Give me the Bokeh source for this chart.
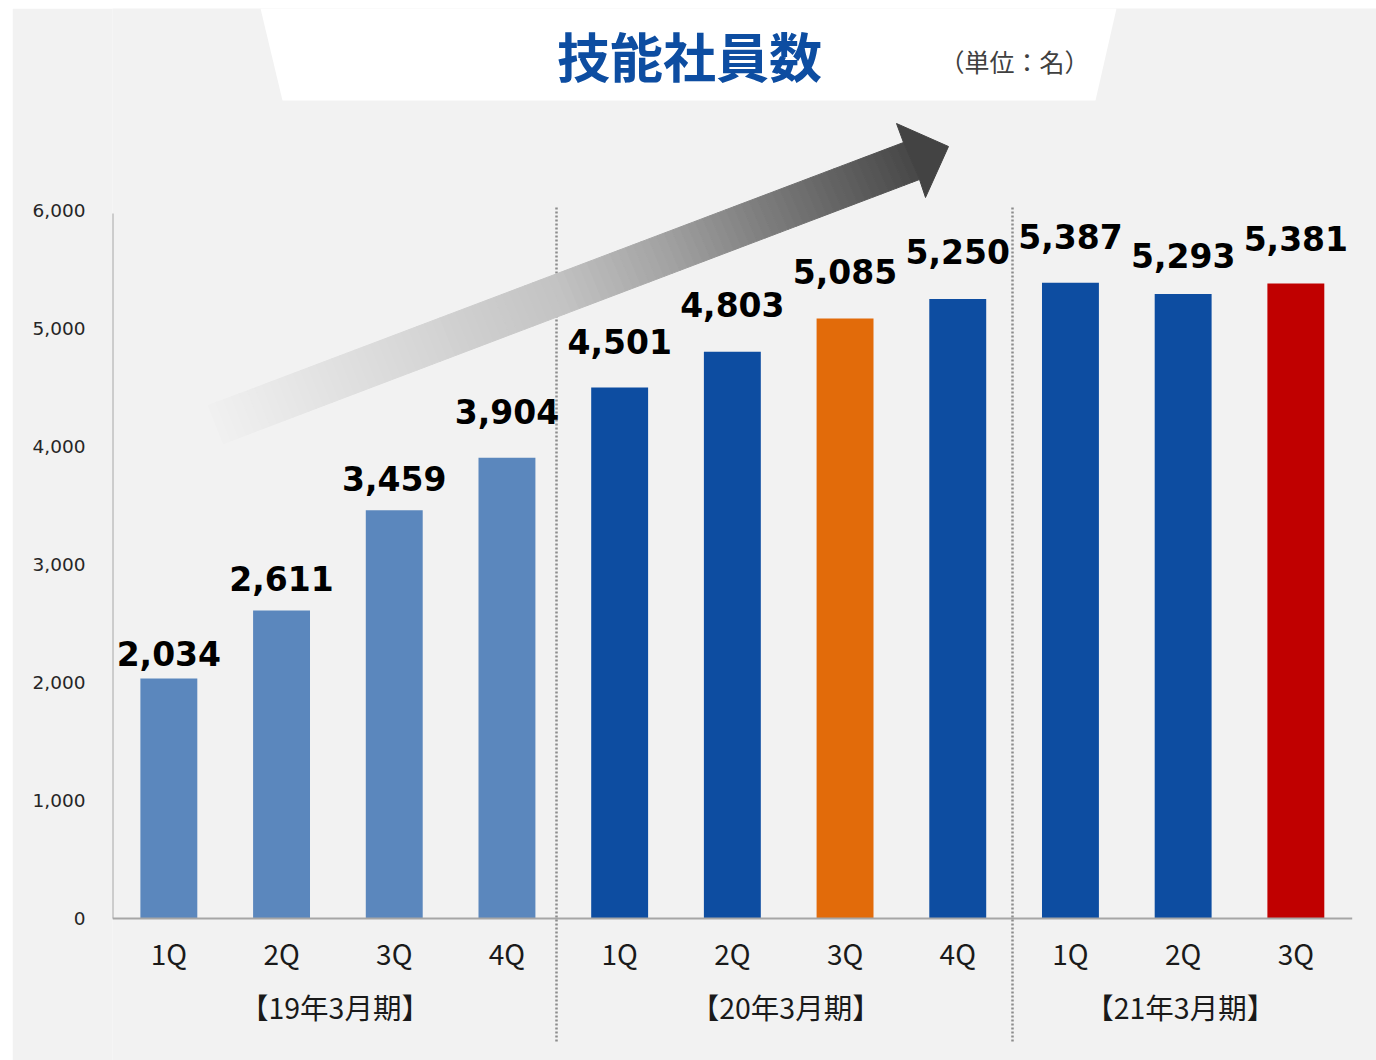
import numpy as np
from bokeh.plotting import figure
from bokeh.models import Range1d, FixedTicker, ColumnDataSource, NumeralTickFormatter
from bokeh.core.properties import value
from bokeh.embed import file_html
from bokeh.resources import INLINE

# ---------------- data ----------------
quarters = ["1Q", "2Q", "3Q", "4Q", "1Q", "2Q", "3Q", "4Q", "1Q", "2Q", "3Q"]
fiscal_groups = ["【19年3月期】", "【20年3月期】", "【21年3月期】"]
group_sizes = [4, 4, 3]
employees = [2034, 2611, 3459, 3904, 4501, 4803, 5085, 5250, 5387, 5293, 5381]
y_ticks = [0, 1000, 2000, 3000, 4000, 5000, 6000]
title_text = "技能社員数"
unit_text = "（単位：名）"

# ---------------- styles ----------------
bar_colors = ["#5b87bd"] * 4 + ["#0d4da1"] * 2 + ["#e26b0a"] + ["#0d4da1"] * 3 + ["#c00000"]
label_lift = [13, 20, 20, 34, 34, 35, 35, 36, 34, 26, 33]   # px gap between bar top and label baseline
BASELINE_FIX = 12  # svg alphabetic baseline correction
BG = "#f2f2f2"
BLUE = "#0d4da1"

# pixel <-> data helpers for decorations
FRAME_L, PX_PER_CAT, PX_PER_UNIT, ZERO_PY = 112, 112.7, 0.118, 918
def dx(px):
    return (px - FRAME_L) / PX_PER_CAT
def dy(py):
    return (ZERO_PY - py) / PX_PER_UNIT

p = figure(width=1364, height=1052, margin=(8, 0, 0, 12),
           x_range=Range1d(dx(112), dx(1376)), y_range=Range1d(dy(1060), dy(8)),
           x_axis_location=None, y_axis_location="left",
           output_backend="svg", toolbar_location=None,
           min_border_left=100, min_border_right=0, min_border_top=0, min_border_bottom=0)
p.background_fill_color = BG
p.border_fill_color = BG
p.outline_line_color = None
p.xgrid.visible = False
p.ygrid.visible = False

ax = p.yaxis[0]
ax.ticker = FixedTicker(ticks=y_ticks)
ax.formatter = NumeralTickFormatter(format="0,0")
ax.axis_line_color = None
ax.major_tick_line_color = None
ax.minor_tick_line_color = None
ax.major_label_standoff = 21
ax.major_label_text_font = "DejaVu Sans"
ax.major_label_text_font_size = "18.5px"
ax.major_label_text_color = "#262626"

n = len(employees)
centers = [i + 0.5 for i in range(n)]

# title banner (white trapezoid)
p.patch([dx(260), dx(1116), dx(1095), dx(282)], [dy(8), dy(8), dy(100), dy(100)],
        fill_color="white", line_color=None)
p.text([dx(689)], [dy(54)], text=[title_text], text_font=value("Noto Sans CJK JP"),
       text_font_style="bold", text_font_size="53px", text_color=BLUE,
       text_align="center", text_baseline="middle")
p.text([dx(1014)], [dy(60)], text=[unit_text], text_font=value("Noto Sans CJK JP"),
       text_font_size="25px", text_color="#404040",
       text_align="center", text_baseline="middle")

# bars
src = ColumnDataSource(dict(x=centers, top=employees, color=bar_colors,
                            label=[f"{v:,}" for v in employees],
                            off=[-(l + BASELINE_FIX) for l in label_lift], q=quarters))
p.vbar(x="x", top="top", bottom=0, width=0.505, fill_color="color", line_color=None, source=src)

# axis lines
p.segment([0], [0], [n], [0], line_color="#a6a6a6", line_width=2)
p.segment([0], [0], [0], [dy(213)], line_color="#a6a6a6", line_width=2)

# group separators (dotted)
sep_x = [dx(556), dx(1012)]
p.segment(sep_x, [dy(207)] * 2, sep_x, [dy(1043)] * 2,
          line_color="#8c8c8c", line_width=2.5, line_dash="2 2")

# gradient arrow
U0, U1 = np.array([208, 405.0]), np.array([903, 142.0])
L0, L1 = np.array([223, 443.0]), np.array([919, 179.0])
stops_t = [0.0, 0.25, 0.5, 0.65, 0.8, 1.0]
stops_g = [240, 218, 194, 162, 122, 72]
N = 90
xs, ys, cols = [], [], []
for i in range(N):
    t0, t1 = i / N, (i + 1) / N
    pts = [U0 + (U1 - U0) * t0, U0 + (U1 - U0) * t1, L0 + (L1 - L0) * t1, L0 + (L1 - L0) * t0]
    xs.append([dx(q[0]) for q in pts])
    ys.append([dy(q[1]) for q in pts])
    g = int(round(np.interp((t0 + t1) / 2, stops_t, stops_g)))
    cols.append(f"#{g:02x}{g:02x}{g:02x}")
p.patches(xs, ys, fill_color=cols, line_color=cols, line_width=1)
head = [(896, 123), (948, 146), (925, 197), (919, 179), (903, 142)]
p.patch([dx(a) for a, b in head], [dy(b) for a, b in head], fill_color="#434343", line_color="#434343", line_width=1)

# value labels
p.text(x="x", y="top", text="label", y_offset="off", source=src,
       text_font=value("DejaVu Sans"), text_font_style="bold", text_font_size="33px",
       text_color="#000000", text_align="center", text_baseline="alphabetic")

# quarter labels
p.text(x="x", y=dy(964 - BASELINE_FIX), text="q", source=src,
       text_font=value("Noto Sans CJK JP"), text_font_size="28px", text_color="#1a1a1a",
       text_align="center", text_baseline="alphabetic")

# fiscal-year group labels
gx, start = [], 0
for s in group_sizes:
    gx.append(start + s / 2)
    start += s
p.text(gx, [dy(1018 - BASELINE_FIX)] * len(gx), text=fiscal_groups, x_offset=-3,
       text_font=value("Noto Sans CJK JP"), text_font_size="28.5px", text_color="#1a1a1a",
       text_align="center", text_baseline="alphabetic")

open("out.html", "w").write(file_html(p, INLINE))
